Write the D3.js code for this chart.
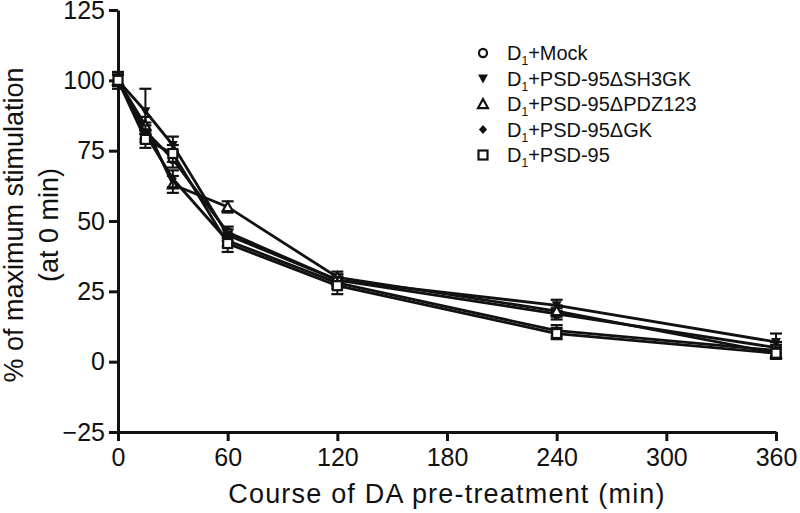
<!DOCTYPE html>
<html>
<head>
<meta charset="utf-8">
<script src="https://cdn.jsdelivr.net/npm/d3@7"></script>
<style>
  body { margin: 0; background: #fff; }
  text { font-family: "Liberation Sans", Arial, sans-serif; fill: #111; }
</style>
</head>
<body>
<div id="chart"></div>
<script>
// time points (min)
const times = [0, 15, 30, 60, 120, 240, 360];

const seriesNames = ['Mock', 'PSD-95\u0394SH3GK', 'PSD-95\u0394PDZ123', 'PSD-95\u0394GK', 'PSD-95'];
const seriesSymbols = ['circle', 'triDown', 'triUp', 'diamond', 'square'];

const mockVals   = [100, 82, 72, 46, 29, 17, 5];
const sh3gkVals  = [100, 89, 77, 45, 29, 20, 7];
const pdz123Vals = [100, 84, 63, 55, 30, 18, 3];
const gkVals     = [100, 81, 65, 43, 28, 11, 4];
const psd95Vals  = [100, 79, 74, 42, 27, 10, 3];

const mockErr   = [2, 3, 3, 2, 2, 2, 2];
const sh3gkErr  = [3, 8, 3, 2, 2, 2, 3];
const pdz123Err = [2, 3, 3, 2, 2, 2, 2];
const gkErr     = [2, 3, 3, 2, 2, 2, 2];
const psd95Err  = [2, 3, 3, 3, 3, 2, 2];

const yTicks = [-25, 0, 25, 50, 75, 100, 125];
const xTicks = [0, 60, 120, 180, 240, 300, 360];

const allVals = [mockVals, sh3gkVals, pdz123Vals, gkVals, psd95Vals];
const allErr = [mockErr, sh3gkErr, pdz123Err, gkErr, psd95Err];

const width = 800, height = 513;
const x = d3.scaleLinear().domain([0, 360]).range([118, 776]);
const y = d3.scaleLinear().domain([-25, 125]).range([432, 10]);

const svg = d3.select('#chart').append('svg')
  .attr('width', width).attr('height', height);

// axes
const xAxis = svg.append('g')
  .attr('transform', `translate(0,${y(-25)})`)
  .call(d3.axisBottom(x).tickValues(xTicks).tickSize(9).tickPadding(7).tickSizeOuter(0));
const yAxis = svg.append('g')
  .attr('transform', `translate(${x(0)},0)`)
  .call(d3.axisLeft(y).tickValues(yTicks).tickSize(9).tickPadding(4).tickSizeOuter(0));

[xAxis, yAxis].forEach(g => {
  g.select('.domain').attr('stroke', '#111').attr('stroke-width', 3);
  g.selectAll('.tick line').attr('stroke', '#111').attr('stroke-width', 3);
  g.selectAll('.tick text').style('font-size', '25px').attr('fill', '#111');
});

// axis titles
svg.append('text')
  .attr('x', 447).attr('y', 503)
  .attr('text-anchor', 'middle')
  .style('font-size', '27px')
  .style('letter-spacing', '1.2px')
  .text('Course of DA pre-treatment (min)');

const yt = svg.append('text')
  .attr('transform', `translate(23,${y(50) + 4}) rotate(-90)`)
  .attr('text-anchor', 'middle')
  .style('font-size', '27px');
yt.append('tspan').attr('x', 0).attr('dy', 0).text('% of maximum stimulation');
yt.append('tspan').attr('x', 0).attr('dy', 35).text('(at 0 min)');

// marker drawing
function drawMarker(g, type, cx, cy, s) {
  if (type === 'circle') {
    g.append('circle').attr('cx', cx).attr('cy', cy).attr('r', s * 0.45)
      .attr('fill', '#fff').attr('stroke', '#111').attr('stroke-width', 2.2);
  } else if (type === 'square') {
    g.append('rect').attr('x', cx - s / 2).attr('y', cy - s / 2).attr('width', s).attr('height', s)
      .attr('fill', '#fff').attr('stroke', '#111').attr('stroke-width', 2.2);
  } else if (type === 'triDown') {
    g.append('path').attr('d', `M${cx - s * 0.55},${cy - s * 0.45}L${cx + s * 0.55},${cy - s * 0.45}L${cx},${cy + s * 0.55}Z`)
      .attr('fill', '#111');
  } else if (type === 'triUp') {
    g.append('path').attr('d', `M${cx - s * 0.55},${cy + s * 0.45}L${cx + s * 0.55},${cy + s * 0.45}L${cx},${cy - s * 0.55}Z`)
      .attr('fill', '#fff').attr('stroke', '#111').attr('stroke-width', 2.2);
  } else if (type === 'diamond') {
    g.append('path').attr('d', `M${cx},${cy - s * 0.5}L${cx + s * 0.45},${cy}L${cx},${cy + s * 0.5}L${cx - s * 0.45},${cy}Z`)
      .attr('fill', '#111');
  }
}

const plot = svg.append('g');
const line = d3.line().x((d, i) => x(times[i])).y(d => y(d));

allVals.forEach((vals, si) => {
  const errs = allErr[si];
  const g = plot.append('g');
  // error bars
  vals.forEach((v, i) => {
    const cx = x(times[i]);
    const lo = y(v - errs[i]), hi = y(v + errs[i]);
    g.append('line').attr('x1', cx).attr('x2', cx).attr('y1', lo).attr('y2', hi)
      .attr('stroke', '#111').attr('stroke-width', 2);
    [lo, hi].forEach(yy => g.append('line')
      .attr('x1', cx - 6).attr('x2', cx + 6).attr('y1', yy).attr('y2', yy)
      .attr('stroke', '#111').attr('stroke-width', 2.2));
  });
  g.append('path').attr('d', line(vals))
    .attr('fill', 'none').attr('stroke', '#111').attr('stroke-width', 2.8);
  vals.forEach((v, i) => drawMarker(g, seriesSymbols[si], x(times[i]), y(v), 9));
});

// legend
const legend = svg.append('g');
seriesNames.forEach((name, i) => {
  const ly = 53 + i * 25.5;
  drawMarker(legend, seriesSymbols[i], 483, ly, 9);
  const t = legend.append('text').attr('x', 507).attr('y', ly + 7).style('font-size', '20px');
  t.append('tspan').text('D');
  t.append('tspan').attr('dy', 5).style('font-size', '12px').text('1');
  t.append('tspan').attr('dy', -5).text('+' + name);
});
</script>
</body>
</html>
